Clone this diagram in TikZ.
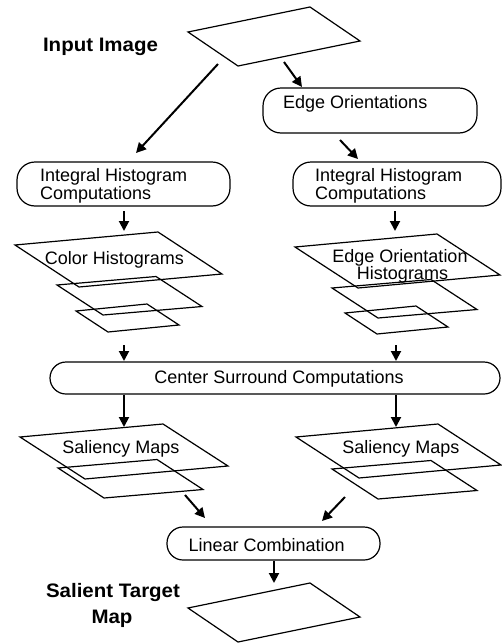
\documentclass[tikz,border=0pt]{standalone}
\usepackage{fontspec}
\setmainfont{Liberation Sans}
\usepackage{graphicx}
\usetikzlibrary{arrows.meta}
\newcommand{\sheetp}[6]{\draw[sheet] (#1,#2) -- ({#1+(#3)},{#2+(#4)}) -- ({#1+(#3)+(#5)},{#2+(#4)+(#6)}) -- ({#1+(#5)},{#2+(#6)}) -- cycle;}
\newcommand{\widebold}[1]{\scalebox{1.05}[1]{#1}}
\begin{document}
\begin{tikzpicture}[x=1pt,y=-1pt,
  pill/.style={draw, line width=1.2pt, rounded corners=18pt, inner sep=0pt},
  lbl/.style={font=\fontsize{18}{18}\selectfont, inner sep=0pt, anchor=base},
  lblw/.style={lbl, anchor=base west},
  ttl/.style={font=\bfseries\fontsize{19.5}{19.5}\selectfont, inner sep=0pt, anchor=base},
  sheet/.style={line width=1.2pt, line join=miter},
  arr/.style={line width=2pt, -{Triangle[length=10pt,width=10pt]}}
]
\useasboundingbox (0,0) rectangle (502,643);

% sheets (parallelograms)
\sheetp{188}{32}{122}{-25}{50}{34}
\sheetp{188}{608}{122}{-25}{50}{34}
% color histograms stack
\sheetp{15}{245}{143}{-13}{64}{42}
\sheetp{57}{285}{99}{-8.5}{46}{30}
\sheetp{76}{311}{71}{-7}{32}{21}
% edge orientation histograms stack
\sheetp{295}{247}{142}{-13}{63}{41}
\sheetp{332}{288}{99}{-8.5}{46}{30}
\sheetp{345}{313}{71}{-7}{32}{21}
% saliency stacks
\sheetp{20}{437}{143}{-13}{65}{42}
\sheetp{58}{468}{99}{-8.5}{46}{30}
\sheetp{296}{437}{142}{-13}{63}{41}
\sheetp{332}{469}{99}{-8.5}{46}{30}

% rounded process boxes
\node[pill, minimum width=214pt, minimum height=45pt] (eo) at (370,110.5) {};
\node[pill, minimum width=213pt, minimum height=44pt] (ihcL) at (123.5,184) {};
\node[pill, minimum width=208pt, minimum height=44pt] (ihcR) at (397,184) {};
\node[pill, rounded corners=16pt, minimum width=450pt, minimum height=32pt] (cs) at (275,378) {};
\node[pill, rounded corners=16pt, minimum width=213pt, minimum height=33pt] (lc) at (273.5,543.5) {};

% labels
\node[ttl] (tin) at (100.5,51.5) {\widebold{Input Image}};
\node[ttl] (tst1) at (113,597.5) {\widebold{Salient Target}};
\node[ttl] (tst2) at (112,623) {\widebold{Map}};
\node[lblw] (teo) at (283,108.5) {Edge Orientations};
\node[lblw] (tihcL1) at (40,181.7) {Integral Histogram};
\node[lblw] (tihcL2) at (40,199.3) {Computations};
\node[lblw] (tihcR1) at (315,181.7) {Integral Histogram};
\node[lblw] (tihcR2) at (315,199.3) {Computations};
\node[lbl] (tch) at (114.3,264.3) {Color Histograms};
\node[lbl] (teoh1) at (400,262.3) {Edge Orientation};
\node[lbl] (teoh2) at (402.5,279.5) {Histograms};
\node[lbl] (tcs) at (279,383) {Center Surround Computations};
\node[lbl] (tsmL) at (120.8,453) {Saliency Maps};
\node[lbl] (tsmR) at (400.8,453) {Saliency Maps};
\node[lblw] (tlc) at (188.3,551) {Linear Combination};

% arrow end points
\coordinate (a1s) at (218,64);  \coordinate (a1e) at (136,153);
\coordinate (a2s) at (284,62);  \coordinate (a2e) at (302,87);
\coordinate (a3s) at (340,140); \coordinate (a3e) at (358,159);
\coordinate (a4s) at (124,211); \coordinate (a4e) at (124,231);
\coordinate (a5s) at (395,211); \coordinate (a5e) at (395,231);
\coordinate (a6s) at (124,345); \coordinate (a6e) at (124,361);
\coordinate (a7s) at (396,345); \coordinate (a7e) at (396,361);
\coordinate (a8s) at (124,395); \coordinate (a8e) at (124,427);
\coordinate (a9s) at (396,395); \coordinate (a9e) at (396,427);
\coordinate (a10s) at (185,495); \coordinate (a10e) at (205,518);
\coordinate (a11s) at (345,497); \coordinate (a11e) at (322,521);
\coordinate (a12s) at (274,561); \coordinate (a12e) at (274,583);

\draw[arr] (a1s) -- (a1e);
\draw[arr] (a2s) -- (a2e);
\draw[arr] (a3s) -- (a3e);
\draw[arr] (a4s) -- (a4e);
\draw[arr] (a5s) -- (a5e);
\draw[arr] (a6s) -- (a6e);
\draw[arr] (a7s) -- (a7e);
\draw[arr] (a8s) -- (a8e);
\draw[arr] (a9s) -- (a9e);
\draw[arr] (a10s) -- (a10e);
\draw[arr] (a11s) -- (a11e);
\draw[arr] (a12s) -- (a12e);
\end{tikzpicture}
\end{document}
